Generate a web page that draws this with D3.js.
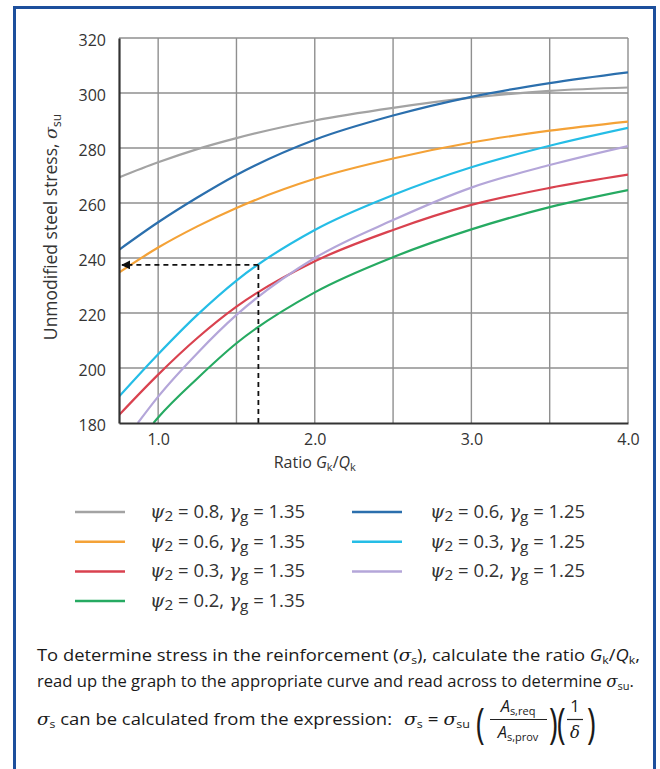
<!DOCTYPE html>
<html>
<head>
<meta charset="utf-8">
<script src="https://cdn.jsdelivr.net/npm/d3@7"></script>
<style>
body { margin: 0; background: #fff; }
svg { display: block; font-family: "Open Sans", "Noto Sans", sans-serif; }
</style>
</head>
<body>
<div id="chart"></div>
<script>

// values: [ratio Gk/Qk, unmodified steel stress]
var psi08_g135 = [[0.75, 269.3], [1.0, 274.8], [1.25, 279.6], [1.5, 283.6], [2.0, 290.0], [2.5, 294.6], [3.0, 298.3], [3.5, 300.8], [4.0, 302.0]];
var psi06_g135 = [[0.75, 234.7], [1.0, 243.8], [1.25, 251.5], [1.5, 258.2], [2.0, 268.8], [2.5, 276.2], [3.0, 282], [3.5, 286.3], [4.0, 289.6]];
var psi03_g135 = [[0.75, 182.9], [1.0, 197.6], [1.25, 210.9], [1.5, 222.3], [2.0, 238.8], [2.5, 250.2], [3.0, 259.3], [3.5, 265.5], [4.0, 270.3]];
var psi02_g135 = [[0.97, 180], [1.0, 182], [1.25, 196.2], [1.5, 209], [2.0, 227.5], [2.5, 240.3], [3.0, 250.4], [3.5, 258.5], [4.0, 264.7]];
var psi06_g125 = [[0.75, 243], [1.0, 253], [1.25, 262], [1.5, 270.2], [2.0, 283], [2.5, 291.8], [3.0, 298.6], [3.5, 303.6], [4.0, 307.5]];
var psi03_g125 = [[0.75, 189.6], [1.0, 205], [1.25, 219.3], [1.5, 231.8], [2.0, 250.2], [2.5, 262.9], [3.0, 273], [3.5, 280.8], [4.0, 287.3]];
var psi02_g125 = [[0.87, 180], [1.0, 189.6], [1.25, 205.4], [1.5, 219.3], [2.0, 240], [2.5, 253.8], [3.0, 265.6], [3.5, 273.8], [4.0, 280.7]];

var seriesPsi = ["0.8", "0.6", "0.3", "0.2", "0.6", "0.3", "0.2"];
var seriesGamma = ["1.35", "1.35", "1.35", "1.35", "1.25", "1.25", "1.25"];
var seriesColors = ["#a3a3a3", "#f4a237", "#d9424f", "#26aa62", "#2b6fad", "#25bde6", "#b4a6d9"];

var xTicks = [1, 2, 3, 4];
var xTickLabels = ["1.0", "2.0", "3.0", "4.0"];
var xGrid = [1, 1.5, 2, 2.5, 3, 3.5, 4];
var yTicks = [180, 200, 220, 240, 260, 280, 300, 320];

// worked example drawn with dashed lines
var exampleRatio = 1.64, exampleStress = 237.5;

var allSeries = [psi08_g135, psi06_g135, psi03_g135, psi02_g135, psi06_g125, psi03_g125, psi02_g125];

var w = 660, h = 769;
var margin = {top: 38, right: 32, bottom: 346, left: 119};
var width = w - margin.left - margin.right,
    height = h - margin.top - margin.bottom;

var svg = d3.select("#chart").append("svg")
    .attr("width", w)
    .attr("height", h);

// blue frame round the whole figure
svg.append("rect")
    .attr("x", 14.5).attr("y", 7.5)
    .attr("width", 640).attr("height", 780)
    .attr("fill", "none")
    .attr("stroke", "#1d4f9c")
    .attr("stroke-width", 3);

var g = svg.append("g")
    .attr("transform", "translate(" + margin.left + "," + margin.top + ")");

var x = d3.scaleLinear().domain([0.75, 4]).range([0, width]);
var y = d3.scaleLinear().domain([180, 320]).range([height, 0]);

// grid
g.append("g").attr("class", "grid")
    .selectAll("line.v").data(xGrid).enter().append("line")
    .attr("x1", function (d) { return x(d); })
    .attr("x2", function (d) { return x(d); })
    .attr("y1", 0).attr("y2", height)
    .attr("stroke", "#8f8f8f").attr("stroke-width", 1.4);

g.append("g").attr("class", "grid")
    .selectAll("line.h").data(yTicks.slice(1)).enter().append("line")
    .attr("x1", 0).attr("x2", width)
    .attr("y1", function (d) { return y(d); })
    .attr("y2", function (d) { return y(d); })
    .attr("stroke", "#8f8f8f").attr("stroke-width", 1.4);

// curves
svg.append("defs").append("clipPath").attr("id", "plotClip")
    .append("rect").attr("width", width).attr("height", height);

var line = d3.line()
    .x(function (d) { return x(d[0]); })
    .y(function (d) { return y(d[1]); })
    .curve(d3.curveMonotoneX);

g.append("g").attr("clip-path", "url(#plotClip)")
    .selectAll("path.curve").data(allSeries).enter().append("path")
    .attr("class", "curve")
    .attr("d", line)
    .attr("fill", "none")
    .attr("stroke", function (d, i) { return seriesColors[i]; })
    .attr("stroke-width", 2.2);

// dashed read-off lines
svg.select("defs").append("marker")
    .attr("id", "arrow")
    .attr("viewBox", "0 0 10 10")
    .attr("refX", 9).attr("refY", 5)
    .attr("markerWidth", 5).attr("markerHeight", 5)
    .attr("orient", "auto")
    .append("path").attr("d", "M0,0L10,5L0,10Z").attr("fill", "#111");

g.append("path")
    .attr("d", "M" + x(exampleRatio) + "," + y(exampleStress) + "H" + (x(0.75) + 3))
    .attr("fill", "none")
    .attr("stroke", "#111")
    .attr("stroke-width", 1.8)
    .attr("stroke-dasharray", "5,4")
    .attr("marker-end", "url(#arrow)");

g.append("path")
    .attr("d", "M" + x(exampleRatio) + "," + y(exampleStress) + "V" + y(180))
    .attr("fill", "none")
    .attr("stroke", "#111")
    .attr("stroke-width", 1.8)
    .attr("stroke-dasharray", "5,4");

// axes
var xAxis = g.append("g")
    .attr("transform", "translate(0," + height + ")")
    .call(d3.axisBottom(x).tickValues(xTicks).tickSize(0).tickPadding(11)
        .tickFormat(function (d, i) { return xTickLabels[i]; }));
xAxis.select(".domain").attr("stroke", "#333").attr("stroke-width", 2.2);
xAxis.selectAll("text").attr("font-size", 16).attr("fill", "#333")
    .attr("font-family", "Open Sans, sans-serif");

var yAxis = g.append("g")
    .call(d3.axisLeft(y).tickValues(yTicks).tickSize(0).tickPadding(13));
yAxis.select(".domain").attr("stroke", "#333").attr("stroke-width", 2.2);
yAxis.selectAll("text").attr("font-size", 16).attr("fill", "#333")
    .attr("font-family", "Open Sans, sans-serif").attr("dy", "0.45em");

// axis titles
var xTitle = svg.append("text")
    .attr("x", x(2.0) + margin.left)
    .attr("y", 468)
    .attr("text-anchor", "middle")
    .attr("font-size", 16).attr("fill", "#333");
xTitle.append("tspan").text("Ratio ");
xTitle.append("tspan").attr("font-style", "italic").text("G");
xTitle.append("tspan").attr("font-size", 11).attr("dy", 3).text("k");
xTitle.append("tspan").attr("dy", -3).text("/");
xTitle.append("tspan").attr("font-style", "italic").text("Q");
xTitle.append("tspan").attr("font-size", 11).attr("dy", 3).text("k");

var yTitle = svg.append("text")
    .attr("transform", "translate(57,227) rotate(-90)")
    .attr("text-anchor", "middle")
    .attr("font-size", 17.5).attr("fill", "#333");
yTitle.append("tspan").text("Unmodified steel stress, ");
yTitle.append("tspan").attr("font-style", "italic").attr("font-family", "DejaVu Serif, serif").text("σ");
yTitle.append("tspan").attr("font-size", 12).attr("dy", 4).text("su");

// legend
var legend = svg.append("g").attr("class", "legend");
seriesColors.forEach(function (c, idx) {
    var col = idx < 4 ? 0 : 1;
    var row = idx < 4 ? idx : idx - 4;
    var lx = col === 0 ? 75 : 352;
    var tx = col === 0 ? 150 : 430;
    var ly = 512 + row * 29.7;
    legend.append("line")
        .attr("x1", lx).attr("x2", lx + 50)
        .attr("y1", ly).attr("y2", ly)
        .attr("stroke", c)
        .attr("stroke-width", 2.5);
    var t = legend.append("text")
        .attr("x", tx).attr("y", ly + 6)
        .attr("font-size", 18).attr("fill", "#333")
        .attr("textLength", 155).attr("lengthAdjust", "spacingAndGlyphs");
    t.append("tspan").attr("font-style", "italic").attr("font-family", "DejaVu Serif, serif").text("ψ");
    t.append("tspan").attr("font-size", 15).attr("dy", 3).text("2");
    t.append("tspan").attr("dy", -3).text(" = " + seriesPsi[idx] + ", ");
    t.append("tspan").attr("font-style", "italic").attr("font-family", "DejaVu Serif, serif").text("γ");
    t.append("tspan").attr("font-size", 15).attr("dy", 4).text("g");
    t.append("tspan").attr("dy", -4).text(" = " + seriesGamma[idx]);
});

// explanatory note
var note = svg.append("g").attr("fill", "#1a1a1a").attr("font-size", 16.5);

var l1 = note.append("text").attr("x", 37).attr("y", 661)
    .attr("textLength", 603).attr("lengthAdjust", "spacingAndGlyphs");
l1.append("tspan").text("To determine stress in the reinforcement (");
l1.append("tspan").attr("font-style", "italic").attr("font-family", "DejaVu Serif, serif").text("σ");
l1.append("tspan").attr("font-size", 11).attr("dy", 3).text("s");
l1.append("tspan").attr("dy", -3).text("), calculate the ratio ");
l1.append("tspan").attr("font-style", "italic").text("G");
l1.append("tspan").attr("font-size", 11).attr("dy", 3).text("k");
l1.append("tspan").attr("dy", -3).text("/");
l1.append("tspan").attr("font-style", "italic").text("Q");
l1.append("tspan").attr("font-size", 11).attr("dy", 3).text("k");
l1.append("tspan").attr("dy", -3).text(",");

var l2 = note.append("text").attr("x", 37).attr("y", 687)
    .attr("textLength", 597).attr("lengthAdjust", "spacingAndGlyphs");
l2.append("tspan").text("read up the graph to the appropriate curve and read across to determine ");
l2.append("tspan").attr("font-style", "italic").attr("font-family", "DejaVu Serif, serif").text("σ");
l2.append("tspan").attr("font-size", 11).attr("dy", 3).text("su");
l2.append("tspan").attr("dy", -3).text(".");

var l3 = note.append("text").attr("x", 37).attr("y", 725)
    .attr("textLength", 355).attr("lengthAdjust", "spacingAndGlyphs");
l3.append("tspan").attr("font-style", "italic").attr("font-family", "DejaVu Serif, serif").text("σ");
l3.append("tspan").attr("font-size", 11).attr("dy", 3).text("s");
l3.append("tspan").attr("dy", -3).text(" can be calculated from the expression:");

var f1 = note.append("text").attr("x", 404).attr("y", 725)
    .attr("textLength", 66).attr("lengthAdjust", "spacingAndGlyphs");
f1.append("tspan").attr("font-style", "italic").attr("font-family", "DejaVu Serif, serif").text("σ");
f1.append("tspan").attr("font-size", 11).attr("dy", 3).text("s");
f1.append("tspan").attr("dy", -3).text(" = ");
f1.append("tspan").attr("font-style", "italic").attr("font-family", "DejaVu Serif, serif").text("σ");
f1.append("tspan").attr("font-size", 11).attr("dy", 3).text("su");

// big brackets and fractions
var paren = [[476, "("], [549, ")"], [557, "("], [587, ")"]];
note.selectAll("text.paren").data(paren).enter().append("text")
    .attr("class", "paren")
    .attr("x", function (d) { return d[0]; })
    .attr("y", 738)
    .attr("font-size", 42)
    .attr("transform", function (d) { return "translate(" + d[0] + ",0) scale(0.7,1) translate(" + (-d[0]) + ",0)"; })
    .text(function (d) { return d[1]; });

var num = note.append("text").attr("x", 518).attr("y", 712).attr("text-anchor", "middle");
num.append("tspan").attr("font-style", "italic").text("A");
num.append("tspan").attr("font-size", 11).attr("dy", 3).text("s,req");
var den = note.append("text").attr("x", 518).attr("y", 738).attr("text-anchor", "middle");
den.append("tspan").attr("font-style", "italic").text("A");
den.append("tspan").attr("font-size", 11).attr("dy", 3).text("s,prov");
note.append("line").attr("x1", 490).attr("x2", 547).attr("y1", 719.5).attr("y2", 719.5)
    .attr("stroke", "#222").attr("stroke-width", 1.2);

note.append("text").attr("x", 575).attr("y", 712).attr("text-anchor", "middle").text("1");
note.append("text").attr("x", 575).attr("y", 738).attr("text-anchor", "middle")
    .attr("font-style", "italic").attr("font-family", "DejaVu Serif, serif").text("δ");
note.append("line").attr("x1", 567).attr("x2", 583).attr("y1", 719.5).attr("y2", 719.5)
    .attr("stroke", "#222").attr("stroke-width", 1.2);

</script>
</body>
</html>
